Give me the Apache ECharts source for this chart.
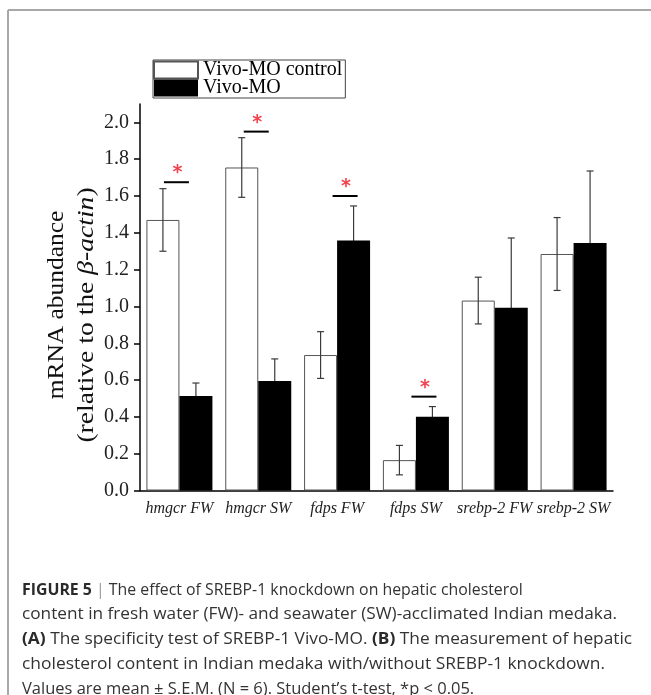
<!DOCTYPE html>
<html>
<head>
<meta charset="utf-8">
<script src="https://cdn.jsdelivr.net/npm/echarts@6/dist/echarts.min.js"></script>
<style>
html,body{margin:0;padding:0;background:#fff;}
#chart{width:651px;height:695px;}
</style>
</head>
<body>
<div id="chart"></div>
<script>
// ---- data ----
var categories = ['hmgcr FW', 'hmgcr SW', 'fdps FW', 'fdps SW', 'srebp-2 FW', 'srebp-2 SW'];
var seriesNames = ['Vivo-MO control', 'Vivo-MO'];
var controlMean = [1.47, 1.755, 0.736, 0.165, 1.032, 1.285];
var controlSEM  = [0.17, 0.162, 0.127, 0.08, 0.127, 0.198];
var moMean      = [0.514, 0.595, 1.358, 0.401, 0.993, 1.345];
var moSEM       = [0.07, 0.12, 0.188, 0.055, 0.379, 0.391];
var sigLevel    = [1.675, 1.95, 1.60, 0.51, null, null];
var yTicks      = [0, 0.2, 0.4, 0.6, 0.8, 1.0, 1.2, 1.4, 1.6, 1.8, 2.0];

var chart = echarts.init(document.getElementById('chart'), null, {renderer: 'canvas'});
var SERIF = 'Liberation Serif';
var SANS = 'Open Sans';
var BAR_W = 33;
var SIG_SHIFT = [-3, -2, 8, 8, 0, 0];
var CAPTION_SCALE = [0.99, 1.076, 1.081, 1.088, 1.03];

function errData(mean, sem) {
  return mean.map(function (m, i) { return [i, m - sem[i], m + sem[i], m]; });
}

function errRenderer(shift) {
  return function (params, api) {
    var i = api.value(0);
    var lo = api.coord([i, api.value(1)]);
    var hi = api.coord([i, api.value(2)]);
    var x = hi[0] + shift;
    var cap = 3.5;
    var st = {stroke: '#3a3a3a', lineWidth: 1.2};
    return {
      type: 'group',
      children: [
        {type: 'line', shape: {x1: x, y1: lo[1], x2: x, y2: hi[1]}, style: st},
        {type: 'line', shape: {x1: x - cap, y1: hi[1], x2: x + cap, y2: hi[1]}, style: st},
        {type: 'line', shape: {x1: x - cap, y1: lo[1], x2: x + cap, y2: lo[1]}, style: st}
      ]
    };
  };
}

var sigData = [];
sigLevel.forEach(function (v, i) { if (v != null) sigData.push([i, v]); });

var captionLines = [
  [['b', 'FIGURE 5'], ['s', ' | '], ['n', 'The effect of SREBP-1 knockdown on hepatic cholesterol']],
  [['n', 'content in fresh water (FW)- and seawater (SW)-acclimated Indian medaka.']],
  [['b', '(A)'], ['n', ' The specificity test of SREBP-1 Vivo-MO. '], ['b', '(B)'], ['n', ' The measurement of hepatic']],
  [['n', 'cholesterol content in Indian medaka with/without SREBP-1 knockdown.']],
  [['n', 'Values are mean \u00b1 S.E.M. (N = 6). Student\u2019s t-test, *p < 0.05.']]
];

var graphics = [
  {type: 'line', shape: {x1: 8, y1: 10, x2: 651, y2: 10}, style: {stroke: '#a8a8a8', lineWidth: 2}},
  {type: 'line', shape: {x1: 8, y1: 10, x2: 8, y2: 695}, style: {stroke: '#a8a8a8', lineWidth: 2}},
  {type: 'text', x: 57, y: 305, rotation: Math.PI / 2, scaleX: 1.06,
    style: {text: 'mRNA abundance', font: '24px "' + SERIF + '"', fill: '#111', align: 'center', verticalAlign: 'middle'}},
  {type: 'text', x: 87, y: 315, rotation: Math.PI / 2, scaleX: 1.2,
    style: {text: '{a|(relative to the }{b|\u03b2-actin}{a|)}', align: 'center', verticalAlign: 'middle',
      rich: {
        a: {fontFamily: SERIF, fontSize: 23, fill: '#111', color: '#111'},
        b: {fontFamily: SERIF, fontSize: 23, fontStyle: 'italic', fill: '#111', color: '#111'}
      }}}
];

captionLines.forEach(function (parts, li) {
  var txt = parts.map(function (p) { return '{' + p[0] + '|' + p[1] + '}'; }).join('');
  graphics.push({type: 'text', x: 22, y: 590 + li * 24.8, scaleX: CAPTION_SCALE[li],
    style: {text: txt, verticalAlign: 'middle',
      rich: {
        b: {fontFamily: SANS, fontSize: 16, fontWeight: 'bold', fill: '#2a2a2a', color: '#2a2a2a'},
        n: {fontFamily: SANS, fontSize: 16, fill: '#333', color: '#333'},
        s: {fontFamily: SANS, fontSize: 16, fill: '#999', color: '#999'}
      }}});
});

var option = {
  backgroundColor: '#fff',
  animation: false,
  legend: {
    data: seriesNames,
    orient: 'vertical',
    icon: 'rect',
    left: 153, top: 60,
    itemWidth: 44, itemHeight: 17, itemGap: -2,
    padding: [0, 3, 0, 0],
    borderColor: '#444', borderWidth: 1,
    textStyle: {fontFamily: SERIF, fontSize: 20, color: '#000'}
  },
  grid: {left: 140, right: 38, top: 104, bottom: 204.5},
  xAxis: {
    type: 'category',
    data: categories,
    axisLine: {lineStyle: {color: '#000', width: 1.5}},
    axisTick: {alignWithLabel: true, length: 6, lineStyle: {color: '#000', width: 1.5}},
    axisLabel: {interval: 0, fontFamily: SERIF, fontStyle: 'italic', fontSize: 16, color: '#222', margin: 10}
  },
  yAxis: {
    type: 'value',
    min: 0, max: 2.1,
    splitLine: {show: false},
    axisLine: {show: true, lineStyle: {color: '#000', width: 1.5}},
    axisTick: {show: true, length: 6, lineStyle: {color: '#000', width: 1.5}, customValues: yTicks},
    axisLabel: {fontFamily: SERIF, fontSize: 20, color: '#222', margin: 11, customValues: yTicks,
      formatter: function (v) { return v.toFixed(1); }}
  },
  series: [
    {name: seriesNames[0], type: 'bar', data: controlMean, barWidth: BAR_W, barGap: '0%', z: 3,
      itemStyle: {color: '#fff', borderColor: '#555', borderWidth: 1}},
    {name: seriesNames[1], type: 'bar', data: moMean, barWidth: BAR_W, barGap: '0%', z: 3,
      itemStyle: {color: '#000'}},
    {type: 'custom', z: 4, data: errData(controlMean, controlSEM), renderItem: errRenderer(-BAR_W / 2),
      encode: {x: 0, y: [1, 2]}, silent: true},
    {type: 'custom', z: 1, data: errData(moMean, moSEM), renderItem: errRenderer(BAR_W / 2),
      encode: {x: 0, y: [1, 2]}, silent: true},
    {type: 'custom', z: 5, data: sigData, encode: {x: 0, y: 1}, silent: true,
      renderItem: function (params, api) {
        var i = api.value(0);
        var p = api.coord([i, api.value(1)]);
        var cx = p[0] + SIG_SHIFT[i];
        return {type: 'group', children: [
          {type: 'line', shape: {x1: cx - 12.5, y1: p[1], x2: cx + 12.5, y2: p[1]}, style: {stroke: '#000', lineWidth: 2}},
          {type: 'text', x: cx + 1, y: p[1] - 9,
            style: {text: '*', font: 'bold 19px "DejaVu Sans"', fill: '#f2434f', align: 'center', verticalAlign: 'middle'}}
        ]};
      }}
  ],
  graphic: graphics
};
chart.setOption(option);
</script>
</body>
</html>
